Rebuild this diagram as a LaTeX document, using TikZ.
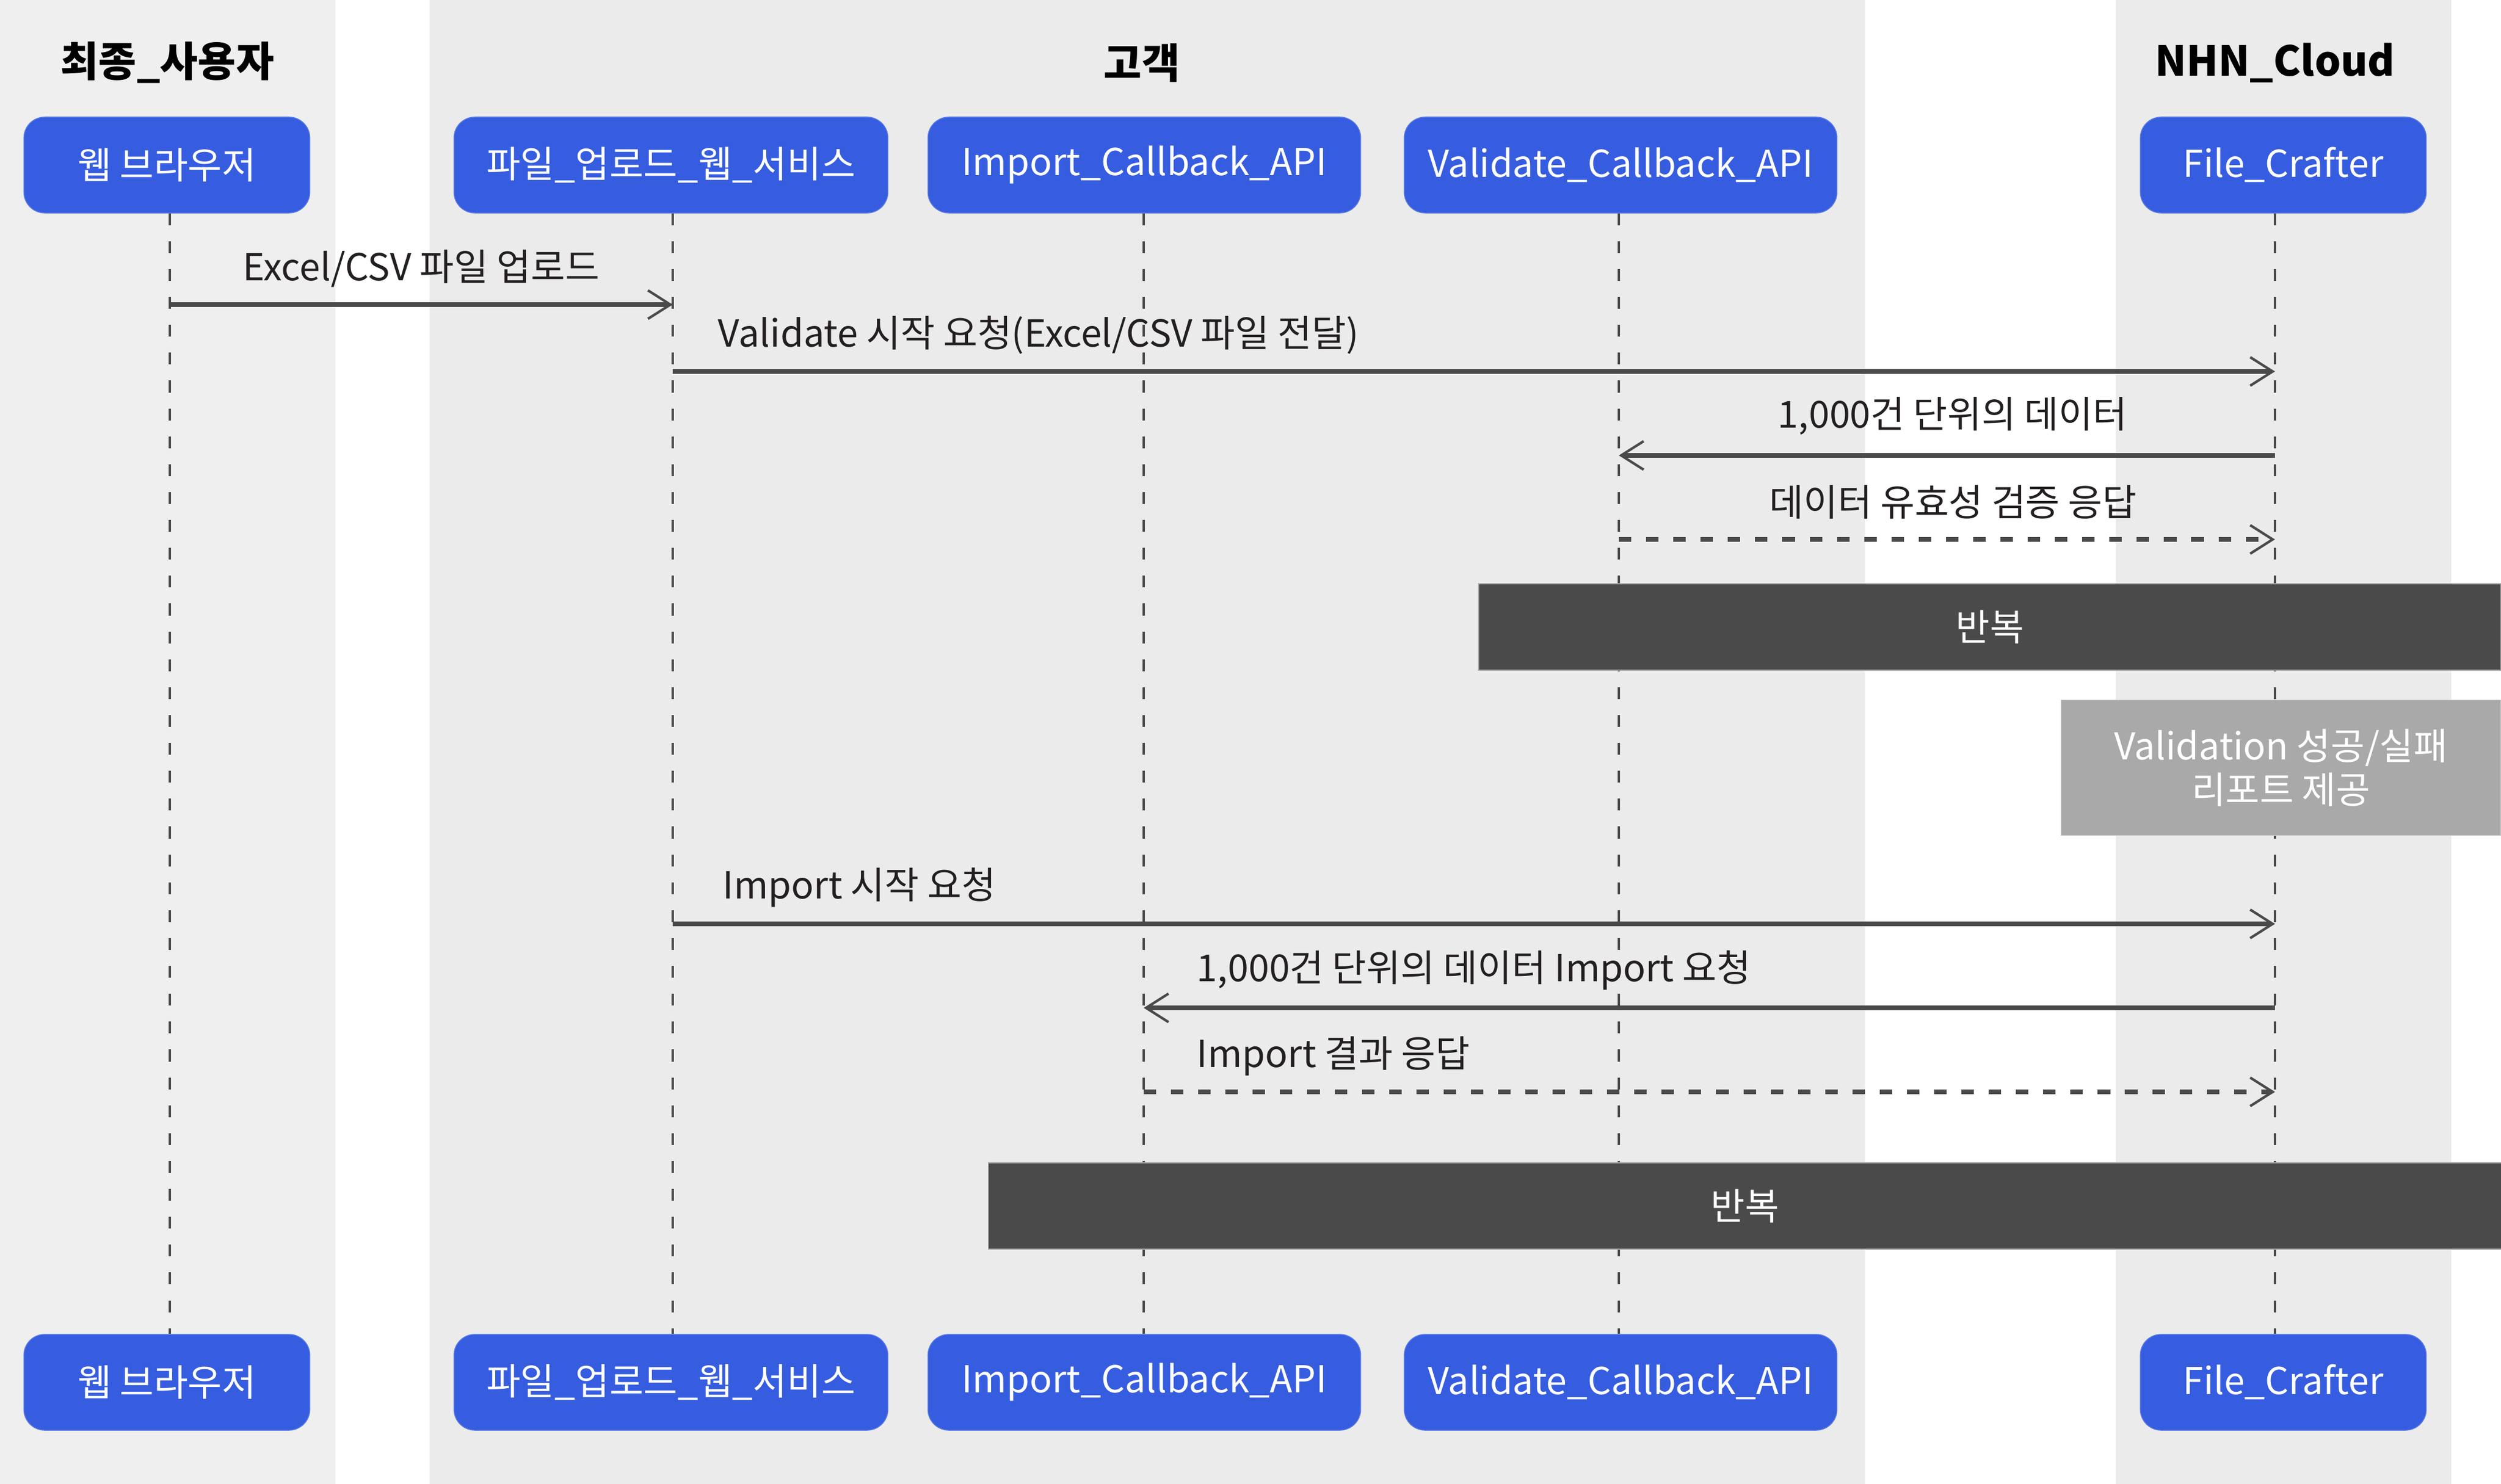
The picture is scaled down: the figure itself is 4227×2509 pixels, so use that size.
\documentclass[tikz,border=0pt]{standalone}
\usepackage{fontspec}
\setmainfont{Noto Sans CJK KR}
\usepackage[HTML]{xcolor}
\usetikzlibrary{positioning, arrows.meta}

\definecolor{laneA}{HTML}{EFEFEF}
\definecolor{laneB}{HTML}{EBEBEB}
\definecolor{actorblue}{HTML}{365DE0}
\definecolor{actoredge}{HTML}{5A7CE6}
\definecolor{linegray}{HTML}{4A4A4A}
\definecolor{loopgray}{HTML}{4A4A4A}
\definecolor{notegray}{HTML}{A9A9A9}
\definecolor{inkdark}{HTML}{231F20}

\tikzset{
  lanetitle/.style={inner sep=0pt, font=\fontsize{19.8}{24}\selectfont\bfseries},
  actor/.style={fill=actorblue, draw=actoredge, line width=0.4pt, text=white,
    rounded corners=10pt, minimum height=1.62cm, font=\fontsize{17.8}{22}\selectfont},
  lifeline/.style={draw=linegray, line width=1.1pt, dash pattern=on 5.7pt off 7.7pt},
  msg/.style={draw=linegray, line width=2.1pt,
    -{Straight Barb[length=10.8pt, width=13.7pt, line width=1.2pt]}},
  reply/.style={msg, dash pattern=on 6pt off 7.1pt},
  msglabel/.style={inner sep=0pt, text=inkdark, font=\fontsize{17.9}{21}\selectfont},
  loopbar/.style={fill=loopgray, draw=gray!70, line width=0.4pt, text=white,
    minimum height=1.46cm, font=\fontsize{17.8}{21}\selectfont},
  notebox/.style={fill=notegray, draw=gray!40, line width=0.4pt, text=white,
    align=center, font=\fontsize{17.8}{21}\selectfont}
}

\begin{document}
\begin{tikzpicture}[x=0.01cm, y=-0.01cm]
\useasboundingbox (0,0) rectangle (4227,2509);
% swim lanes
\fill[laneA] (0,0) rectangle (567,2509);
\fill[laneB] (726,0) rectangle (3152,2509);
\fill[laneB] (3576,0) rectangle (4143,2509);
\node[lanetitle] (usr) at (283,106) {최종\_사용자};
\node[lanetitle] (cst) at (1930,106) {고객};
\node[lanetitle] (nhn) at (3845,106) {NHN\_Cloud};

% participants, top and bottom
\node[actor, minimum width=4.83cm] (web) at (282,279) {웹 브라우저};
\node[actor, minimum width=7.33cm] (upl) at (1134,279) {파일\_업로드\_웹\_서비스};
\node[actor, minimum width=7.31cm] (imp) at (1934,279) {Import\_Callback\_API};
\node[actor, minimum width=7.31cm] (val) at (2739,279) {Validate\_Callback\_API};
\node[actor, minimum width=4.83cm] (fc) at (3859,279) {File\_Crafter};
\node[actor, minimum width=4.83cm] (web2) at (282,2337) {웹 브라우저};
\node[actor, minimum width=7.33cm] (upl2) at (1134,2337) {파일\_업로드\_웹\_서비스};
\node[actor, minimum width=7.31cm] (imp2) at (1934,2337) {Import\_Callback\_API};
\node[actor, minimum width=7.31cm] (val2) at (2739,2337) {Validate\_Callback\_API};
\node[actor, minimum width=4.83cm] (fc2) at (3859,2337) {File\_Crafter};

% lifelines
\coordinate (Lweb) at (287,0);
\coordinate (Lupl) at (1137,0);
\coordinate (Limp) at (1933,0);
\coordinate (Lval) at (2736,0);
\coordinate (Lfc) at (3845,0);
\draw[lifeline] (web.south -| Lweb) -- (web2.north -| Lweb);
\draw[lifeline] (upl.south -| Lupl) -- (upl2.north -| Lupl);
\draw[lifeline] (imp.south -| Limp) -- (imp2.north -| Limp);
\draw[lifeline] (val.south -| Lval) -- (val2.north -| Lval);
\draw[lifeline] (fc.south -| Lfc) -- (fc2.north -| Lfc);

% loop bars and note
\node[loopbar, minimum width=17.27cm] (loopA) at (3363,1060) {반복};
\node[notebox, minimum width=7.43cm, minimum height=2.29cm] (rep) at (3855,1298) {Validation 성공/실패\\리포트 제공};
\node[loopbar, minimum width=25.56cm] (loopB) at (2949,2039) {반복};

% messages
\coordinate (m1) at (0,515);
\coordinate (m2) at (0,628);
\coordinate (m3) at (0,770);
\coordinate (m4) at (0,912);
\coordinate (m5) at (0,1562);
\coordinate (m6) at (0,1704);
\coordinate (m7) at (0,1846);
\draw[msg] (Lweb |- m1) -- (Lupl |- m1);
\node[msglabel] (t1) at (712,454) {Excel/CSV 파일 업로드};
\draw[msg] (Lupl |- m2) -- (Lfc |- m2);
\node[msglabel, anchor=west] (t2) at (1213,567) {Validate 시작 요청(Excel/CSV 파일 전달)};
\draw[msg] (Lfc |- m3) -- (Lval |- m3);
\node[msglabel] (t3) at (3300,703) {1,000건 단위의 데이터};
\draw[reply] (Lval |- m4) -- (Lfc |- m4);
\node[msglabel] (t4) at (3301,849) {데이터 유효성 검증 응답};
\draw[msg] (Lupl |- m5) -- (Lfc |- m5);
\node[msglabel, anchor=west] (t5) at (1221,1501) {Import 시작 요청};
\draw[msg] (Lfc |- m6) -- (Limp |- m6);
\node[msglabel, anchor=west] (t6) at (2022,1641) {1,000건 단위의 데이터 Import 요청};
\draw[reply] (Limp |- m7) -- (Lfc |- m7);
\node[msglabel, anchor=west] (t7) at (2022,1786) {Import 결과 응답};
\end{tikzpicture}
\end{document}
